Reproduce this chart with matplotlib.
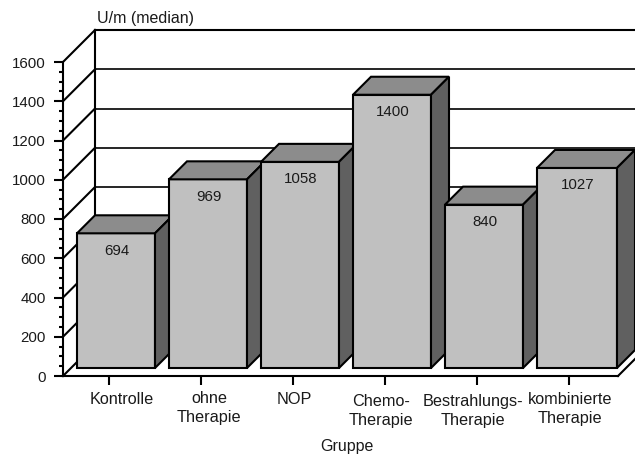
import matplotlib
matplotlib.use('Agg')
import matplotlib.pyplot as plt
import matplotlib.patches as mpatches
from matplotlib.transforms import ScaledTranslation

plt.rcParams['font.family'] = ['Liberation Sans', 'DejaVu Sans']

# --- Data ---
GROUPS = ['Kontrolle', 'ohne\nTherapie', 'NOP', 'Chemo-\nTherapie',
          'Bestrahlungs-\nTherapie', 'kombinierte\nTherapie']
VALUES = [694, 969, 1058, 1400, 840, 1027]
MAJOR_TICKS = [0, 200, 400, 600, 800, 1000, 1200, 1400, 1600]
MINOR_TICKS = [v for v in range(0, 1601, 50) if v % 200 != 0]

# --- Layout, in pixels of the 635x454 picture ---
W, H = 635, 454
LEFT, RIGHT, FLOOR, TOP = 63, 618, 376, 62
PITCH = 92
FIRST_CENTER = 116
DX = 1 / PITCH                   # one pixel in x data units
DY = 1600 / (FLOOR - TOP)        # one pixel in y data units
WALL = 32                        # depth of the side wall
BAR_BASE = 8                     # bars stand this far above the front edge
BAR_DROP = 1.5                   # tops sit slightly under the axis scale
BAR_DEPTH = 18
BAR_W = 78 * DX
LAST_EXTRA = 2 * DX

# label nudges (x, y) in pixels, against the tick
LABEL_NUDGE = [(13, 0), (8, -1), (1, 0), (-4, 2), (-4, 2), (1, 0)]

INK = '#1a1a1a'
FRONT, ROOF, SIDE = '#c0c0c0', '#8c8c8c', '#606060'
LW = 1.5

fig = plt.figure(figsize=(W / 100, H / 100), dpi=100)
ax = fig.add_axes([LEFT / W, (H - FLOOR) / H, (RIGHT - LEFT) / W, (FLOOR - TOP) / H])
ax.set_xlim((LEFT - FIRST_CENTER) * DX, (RIGHT - FIRST_CENTER) * DX)
ax.set_ylim(0, 1600)

ax.spines['top'].set_visible(False)
ax.spines['right'].set_visible(False)
ax.spines['left'].set_linewidth(LW)
ax.spines['bottom'].set_linewidth(LW)

# --- Walls ---
x_left = ax.get_xlim()[0]
x_right = ax.get_xlim()[1]
x_back = x_left + WALL * DX
ax.plot([x_back, x_back], [WALL * DY, 1600 + WALL * DY], color='black', lw=LW, clip_on=False, zorder=1)
for v in MAJOR_TICKS:
    ax.plot([x_left, x_back], [v, v + WALL * DY], color='black', lw=LW, clip_on=False, zorder=1)
    ax.plot([x_back, x_right + 40 * DX], [v + WALL * DY, v + WALL * DY], color='black',
            lw=LW if v == 1600 else 1.2, clip_on=False, zorder=1)
# floor edge on the right
ax.plot([x_right, x_right + WALL * DX], [0, WALL * DY], color='black', lw=LW, clip_on=False, zorder=1)

# --- Bars ---
for i, v in enumerate(VALUES):
    extra = LAST_EXTRA if i == len(VALUES) - 1 else 0
    x0 = i - BAR_W / 2
    x1 = x0 + BAR_W + extra
    y0 = BAR_BASE * DY
    y1 = v + (BAR_BASE - BAR_DROP) * DY
    dx = BAR_DEPTH * DX
    dy = BAR_DEPTH * DY
    z = 3 + i
    ax.bar(x0, y1 - y0, BAR_W + extra, bottom=y0, align='edge', color=FRONT,
           edgecolor='black', linewidth=LW, zorder=z, clip_on=False)
    ax.add_patch(mpatches.Polygon([(x0, y1), (x1, y1), (x1 + dx, y1 + dy), (x0 + dx, y1 + dy)],
                                  facecolor=ROOF, edgecolor='black', linewidth=LW, zorder=z, clip_on=False))
    ax.add_patch(mpatches.Polygon([(x1, y0), (x1 + dx, y0 + dy), (x1 + dx, y1 + dy), (x1, y1)],
                                  facecolor=SIDE, edgecolor='black', linewidth=LW, zorder=z, clip_on=False))
    ax.text((x0 + x1) / 2 + 1 * DX, y1 - 17.5 * DY, str(v), ha='center', va='center',
            fontsize=10.8, color=INK, zorder=z + 0.5)

# --- Ticks ---
ax.set_yticks(MAJOR_TICKS)
ax.set_yticks(MINOR_TICKS, minor=True)
ax.tick_params(axis='y', which='major', length=6.5, width=LW, labelsize=10.8, labelcolor=INK, pad=6)
ax.tick_params(axis='y', which='minor', length=3, width=LW)

ax.set_xticks([i - 7 * DX for i in range(len(GROUPS))])
ax.set_xticklabels(GROUPS, linespacing=1.3)
ax.tick_params(axis='x', which='major', length=6.5, width=LW, labelsize=11.7, labelcolor=INK, pad=5)
for label, (nx, ny) in zip(ax.get_xticklabels(), LABEL_NUDGE):
    label.set_transform(label.get_transform() + ScaledTranslation(nx / 100, -ny / 100, fig.dpi_scale_trans))

fig.text(347 / W, 1 - 446 / H, 'Gruppe', ha='center', va='center', fontsize=11.5, color=INK)
fig.text(97 / W, 1 - 18 / H, 'U/m (median)', ha='left', va='center', fontsize=11.5, color=INK)

fig.savefig('out.png', dpi=100)
print('[+] Saved: out.png')
